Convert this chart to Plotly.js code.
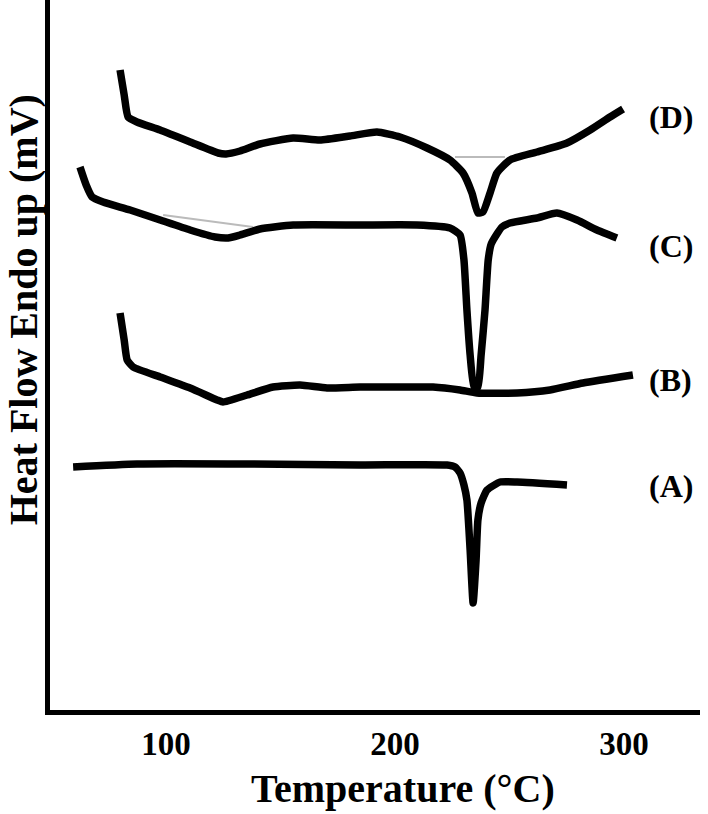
<!DOCTYPE html>
<html>
<head>
<meta charset="utf-8">
<script src="https://cdn.plot.ly/plotly-3.0.1.min.js"></script>
<style>html,body{margin:0;padding:0;background:#fff;}#chart{width:708px;height:814px;}</style>
</head>
<body>
<div id="chart"></div>
<script>
// Temperature (°C) and heat flow (arbitrary mV offset units)
const tempD = [79.9, 81.7, 83.4, 87.3, 97.4, 110.5, 122.7, 126.2, 132.3, 141.0, 155.5, 167.2, 180.3, 192.1, 202.2, 214.0, 224.0, 229.7, 233.6, 236.2, 238.4, 241.5, 244.5, 250.2, 262.0, 275.1, 285.2, 293.9, 299.6];
const flowD = [64.0, 61.5, 59.3, 58.8, 58.0, 56.8, 55.7, 55.6, 55.9, 56.6, 57.2, 57.0, 57.4, 57.8, 57.3, 56.2, 55.0, 53.7, 51.7, 49.7, 49.8, 51.7, 53.7, 55.0, 55.8, 56.7, 58.0, 59.3, 60.1];

const tempC = [62.4, 65.1, 67.7, 72.5, 84.3, 97.4, 110.5, 121.4, 127.1, 132.3, 141.0, 155.5, 184.7, 209.6, 224.0, 228.4, 230.1, 231.4, 232.8, 234.5, 236.2, 237.6, 239.3, 240.7, 242.0, 244.5, 246.7, 250.2, 262.0, 270.7, 279.5, 288.2, 296.9];
const flowC = [54.3, 52.5, 51.3, 50.8, 50.0, 49.0, 48.0, 47.3, 47.2, 47.5, 48.1, 48.5, 48.5, 48.5, 48.2, 47.5, 45.0, 40.0, 35.5, 32.3, 32.3, 35.5, 40.0, 45.0, 46.6, 47.6, 48.3, 48.7, 49.2, 49.7, 49.0, 48.0, 47.2];

const tempB = [79.9, 81.7, 83.0, 85.6, 97.4, 110.5, 122.3, 124.9, 135.4, 146.7, 158.5, 170.3, 184.7, 202.2, 216.6, 228.4, 235.8, 253.3, 267.7, 282.1, 303.9];
const flowB = [39.7, 37.0, 35.0, 34.3, 33.3, 32.2, 31.0, 30.8, 31.5, 32.3, 32.5, 32.2, 32.3, 32.3, 32.3, 32.0, 31.7, 31.7, 32.0, 32.7, 33.5];

const tempA = [59.4, 87.3, 136.7, 184.7, 222.7, 226.2, 228.4, 230.1, 231.4, 232.8, 234.1, 235.4, 236.2, 237.6, 240.2, 245.9, 253.3, 275.1];
const flowA = [24.3, 24.6, 24.6, 24.5, 24.5, 24.3, 23.7, 22.5, 21.0, 16.0, 10.7, 15.0, 19.0, 20.7, 22.0, 22.8, 22.8, 22.5];

// faint baseline construction lines
const baseDTemp = [226.2, 248.0];
const baseDFlow = [55.3, 55.3];
const baseCTemp = [98.7, 138.0];
const baseCFlow = [49.5, 48.3];

const curveLabels = ["(D)", "(C)", "(B)", "(A)"];
const labelTemp = [320.5, 320.5, 320.5, 320.5];
const labelFlow = [59.3, 46.4, 33.0, 22.4];

const tickVals = [100, 200, 300];
const tickText = ["100", "200", "300"];

const serif = "Liberation Serif, Times New Roman, serif";

function curve(x, y, name) {
  return {x: x, y: y, name: name, type: 'scatter', mode: 'lines',
    line: {color: '#000', width: 7.5, shape: 'spline', smoothing: 0.5}, hoverinfo: 'skip'};
}
function faint(x, y) {
  return {x: x, y: y, type: 'scatter', mode: 'lines',
    line: {color: '#bbbbbb', width: 2}, hoverinfo: 'skip', showlegend: false};
}

const data = [
  faint(baseDTemp, baseDFlow),
  faint(baseCTemp, baseCFlow),
  curve(tempD, flowD, 'D'),
  curve(tempC, flowC, 'C'),
  curve(tempB, flowB, 'B'),
  curve(tempA, flowA, 'A')
];

const annotations = curveLabels.map((t, i) => ({
  x: labelTemp[i], y: labelFlow[i], xref: 'x', yref: 'y', text: t, showarrow: false,
  xanchor: 'center', yanchor: 'middle',
  font: {family: serif, size: 32, color: '#000', weight: 'bold'}
}));
annotations.push({
  x: 0.543, y: -0.11, xref: 'paper', yref: 'paper', text: 'Temperature (°C)', showarrow: false,
  xanchor: 'center', yanchor: 'middle',
  font: {family: serif, size: 40, color: '#000', weight: 'bold'}
});
annotations.push({
  x: -0.0415, y: 0.563, xref: 'paper', yref: 'paper', text: 'Heat Flow Endo up (mV)', showarrow: false,
  textangle: -90, xanchor: 'center', yanchor: 'middle',
  font: {family: serif, size: 40, color: '#000', weight: 'bold'}
});

const layout = {
  width: 708, height: 814,
  margin: {l: 50, r: 8, t: 0, b: 104},
  paper_bgcolor: '#fff', plot_bgcolor: '#fff',
  showlegend: false,
  xaxis: {
    range: [49.3, 333.2], showgrid: false, zeroline: false,
    showline: true, linecolor: '#000', linewidth: 5,
    tickvals: tickVals, ticktext: tickText, ticks: '',
    ticklabelstandoff: 0,
    tickfont: {family: serif, size: 33, color: '#000', weight: 'bold'}
  },
  yaxis: {
    range: [0, 71], showgrid: false, zeroline: false,
    showline: true, linecolor: '#000', linewidth: 5,
    showticklabels: false, ticks: ''
  },
  annotations: annotations
};

Plotly.newPlot('chart', data, layout, {displayModeBar: false, staticPlot: true});
</script>
</body>
</html>
